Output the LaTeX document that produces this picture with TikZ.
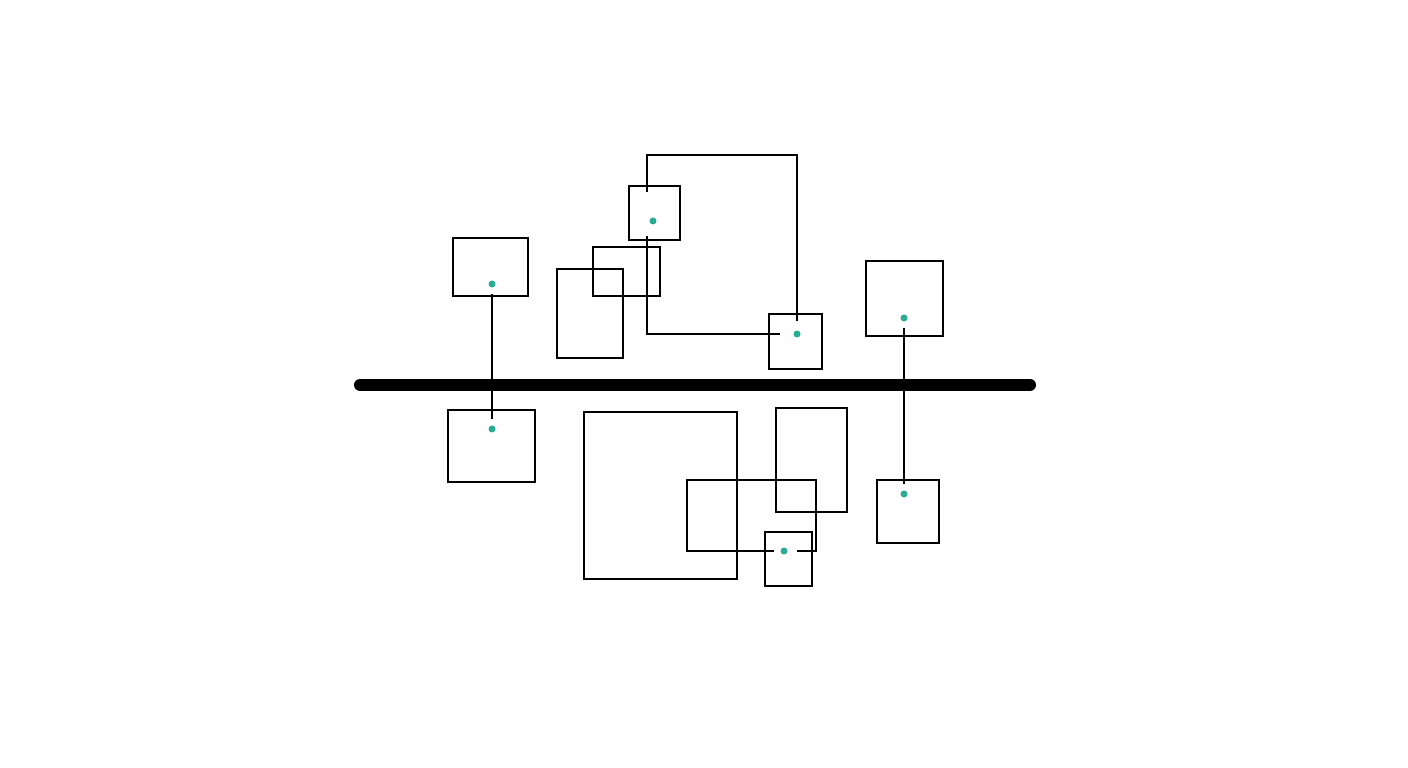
\documentclass[tikz,border=0pt]{standalone}
\usepackage{tikz}
\usetikzlibrary{positioning}
\definecolor{dotgreen}{RGB}{40,172,146}

\begin{document}
\begin{tikzpicture}[x=0.01cm,y=-0.01cm,line width=0.5pt,
    box node/.style={rectangle,draw,inner sep=0pt,line width=0.5pt},
    dot node/.style={circle,fill=dotgreen,inner sep=0pt,minimum size=0.07cm,outer sep=1.8pt},
    wire/.style={-,line width=0.5pt}]
  \useasboundingbox (0,0) rectangle (1408,768);
  % boxes above the bar
  \node[box node,minimum width=0.75cm,minimum height=0.58cm] (A) at (490.5,267) {};
  \node[box node,minimum width=0.51cm,minimum height=0.54cm] (B) at (654.5,213) {};
  \node[box node,minimum width=0.67cm,minimum height=0.49cm] (C1) at (626.5,271.5) {};
  \node[box node,minimum width=0.66cm,minimum height=0.89cm] (C2) at (590,313.5) {};
  \node[box node,minimum width=0.53cm,minimum height=0.55cm] (D) at (795.5,341.5) {};
  \node[box node,minimum width=0.77cm,minimum height=0.75cm] (E) at (904.5,298.5) {};
  % boxes below the bar
  \node[box node,minimum width=0.87cm,minimum height=0.72cm] (G) at (491.5,446) {};
  \node[box node,minimum width=1.53cm,minimum height=1.67cm] (H) at (660.5,495.5) {};
  \node[box node,minimum width=0.71cm,minimum height=1.04cm] (I) at (811.5,460) {};
  \node[box node,minimum width=0.47cm,minimum height=0.54cm] (K) at (788.5,559) {};
  \node[box node,minimum width=0.62cm,minimum height=0.63cm] (F) at (908,511.5) {};
  % dots
  \node[dot node] (a) at (492,284) {};
  \node[dot node] (b) at (653,221) {};
  \node[dot node] (d) at (797,334) {};
  \node[dot node] (e) at (904,318) {};
  \node[dot node] (f) at (904,494) {};
  \node[dot node] (g) at (492,429) {};
  \node[dot node] (k) at (784,551) {};
  % the bar
  \coordinate (bar west) at (360,385);
  \coordinate (bar east) at (1030,385);
  \draw[line width=0.12cm,line cap=round] (bar west) -- (bar east);
  % connectors
  \coordinate (b1) at (647,192);
  \coordinate (b2) at (647,236);
  \coordinate (top) at (647,155);
  \path[wire] (a) edge (g);
  \path[wire] (e) edge (f);
  \draw[wire,shorten >=1pt] (b1) -- (top) -| (d);
  \draw[wire,shorten >=2pt] (b2) |- (d);
  \draw[wire] (k.west) -| (687,480) -- (816,480) |- ([xshift=1pt]k.east);
\end{tikzpicture}
\end{document}
